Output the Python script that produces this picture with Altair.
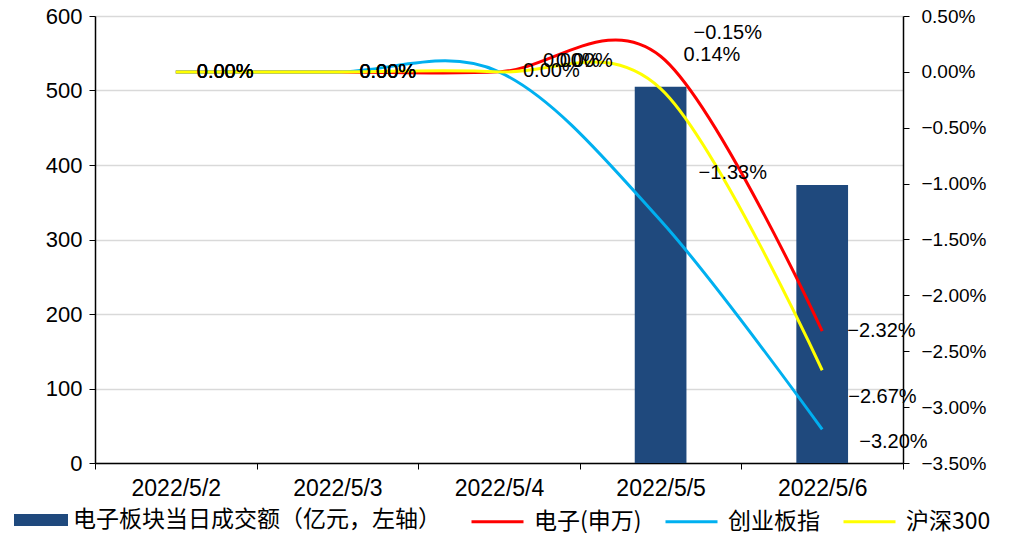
import altair as alt
import pandas as pd

dates = ["2022/5/2", "2022/5/3", "2022/5/4", "2022/5/5", "2022/5/6"]
turnover = [None, None, None, 505, 373]
bar_name = "电子板块当日成交额（亿元，左轴）"
series_names = ["电子(申万)", "创业板指", "沪深300"]
elec = [0.0, 0.0, 0.0, 0.0014, -0.0232]
cyb = [0.0, 0.0, 0.0, -0.0133, -0.0320]
hs300 = [0.0, 0.0, 0.0, -0.0015, -0.0267]
series_colors = ["#FF0000", "#00B0F0", "#FFFF00"]
bar_color = "#1F497D"
left_ticks = [0, 100, 200, 300, 400, 500, 600]
right_ticks = [-0.035, -0.03, -0.025, -0.02, -0.015, -0.01, -0.005, 0.0, 0.005]

NUM_FONT = "Liberation Sans"
CJK_FONT = "Noto Sans CJK SC"

bar_df = pd.DataFrame({"date": dates, "turnover": turnover, "name": bar_name}).dropna()
rows = []
for name, vals in zip(series_names, [elec, cyb, hs300]):
    for d, v in zip(dates, vals):
        rows.append({"date": d, "series": name, "value": v})
line_df = pd.DataFrame(rows)

xscale = alt.Scale(paddingInner=0, paddingOuter=0)
x_axis = alt.Axis(title=None, labelAngle=0, labelFont=NUM_FONT, labelFontSize=23,
                  labelColor="#000000", domainColor="#000000", domainWidth=1.5,
                  tickColor="#000000", tickBand="extent", tickSize=6, labelPadding=8,
                  grid=False)

bars = alt.Chart(bar_df).mark_bar(color=bar_color, width=alt.RelativeBandSize(0.32)).encode(
    x=alt.X("date:N", sort=dates, scale=xscale, axis=x_axis),
    y=alt.Y("turnover:Q", scale=alt.Scale(domain=[0, 600], nice=False),
            axis=alt.Axis(title=None, values=left_ticks, labelFont=NUM_FONT, labelFontSize=22,
                          labelColor="#000000", domainColor="#000000", domainWidth=1.5,
                          tickColor="#000000", tickSize=6, labelPadding=7,
                          grid=True, gridColor="#D9D9D9", gridWidth=1.3)),
    fill=alt.Fill("name:N", scale=alt.Scale(domain=[bar_name], range=[bar_color]),
                  legend=alt.Legend(orient="none", legendX=-81, legendY=477, title=None,
                                    direction="horizontal",
                                    symbolType="M-1,-0.22H1V0.22H-1Z", symbolSize=2916,
                                    symbolStrokeWidth=0, labelFont=CJK_FONT, labelFontSize=23,
                                    labelColor="#000000", labelOffset=5, labelLimit=500)),
)

yscale_r = alt.Scale(domain=[-0.035, 0.005], nice=False)

lines = alt.Chart(line_df).mark_line(interpolate="cardinal", strokeWidth=3).encode(
    x=alt.X("date:N", sort=dates, scale=xscale),
    y=alt.Y("value:Q", scale=yscale_r,
            axis=alt.Axis(title=None, orient="right", values=right_ticks, format=".2%",
                          labelFont=NUM_FONT, labelFontSize=19, labelColor="#000000",
                          domainColor="#000000", domainWidth=1.5, tickColor="#000000",
                          tickSize=6, labelPadding=12, grid=False)),
    stroke=alt.Stroke("series:N", scale=alt.Scale(domain=series_names, range=series_colors),
                      legend=alt.Legend(orient="none", legendX=375, legendY=478, title=None,
                                        direction="horizontal", symbolType="stroke",
                                        symbolSize=2704, symbolStrokeWidth=3,
                                        labelFont=CJK_FONT, labelFontSize=23,
                                        labelColor="#000000", labelOffset=9,
                                        columnPadding=17, labelLimit=300)),
)

label_specs = [
    (0, 0, 21, 0), (0, 1, 21, 0), (0, 2, 21, 0),
    (1, 0, 22, 0), (1, 1, 22, 0), (1, 2, 22, 0),
    (2, 1, 24, -1), (2, 0, 44, -11), (2, 2, 57, -11),
    (3, 0, 23, -1), (3, 2, 33, -56), (3, 1, 38, -48),
    (4, 0, 25, 0), (4, 2, 26, 27), (4, 1, 37, 13),
]

texts = []
for di, si, dx, dy in label_specs:
    t = alt.Chart(line_df).transform_filter(
        (alt.datum.date == dates[di]) & (alt.datum.series == series_names[si])
    ).mark_text(align="left", baseline="middle", dx=dx, dy=dy, font=NUM_FONT,
                fontSize=20, color="#000000").encode(
        x=alt.X("date:N", sort=dates, scale=xscale),
        y=alt.Y("value:Q", scale=yscale_r),
        text=alt.Text("value:Q", format=".2%"),
    )
    texts.append(t)

right_layer = alt.layer(lines, *texts)

chart = alt.layer(bars, right_layer).resolve_scale(
    y="independent"
).properties(
    width=808, height=447,
    autosize=alt.AutoSizeParams(type="none"),
    padding={"left": 87, "top": 8, "right": 102, "bottom": 70},
).configure_view(stroke=None).configure(background="#FFFFFF")

chart.save("out.html", embed_options={"renderer": "svg", "actions": False})
